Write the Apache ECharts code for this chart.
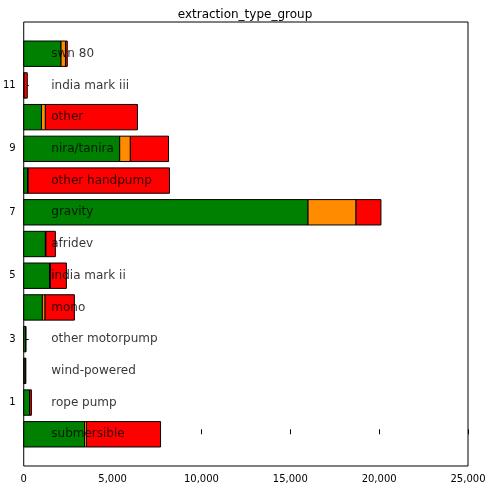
<!DOCTYPE html>
<html><head><meta charset="utf-8">
<script src="https://cdn.jsdelivr.net/npm/echarts@6/dist/echarts.min.js"></script>
<style>html,body{margin:0;background:#fff}#c{width:490px;height:489px}</style>
</head><body><div id="c"></div>
<script>
// extraction types, bottom to top
var types = ['submersible','rope pump','wind-powered','other motorpump','mono','india mark ii',
  'afridev','gravity','other handpump','nira/tanira','other','india mark iii','swn 80'];
var functional = [3420, 330, 80, 100, 1050, 1450, 1220, 16000, 220, 5400, 1000, 20, 2100];
var needsRepair = [110, 0, 0, 0, 150, 50, 30, 2700, 30, 600, 220, 0, 250];
var nonFunctional = [4170, 100, 40, 30, 1650, 900, 530, 1400, 7950, 2150, 5180, 180, 100];
var colors = ['green', 'darkorange', 'red'];

var rects = [];
for (var i = 0; i < types.length; i++) {
  var s = 0;
  [functional[i], needsRepair[i], nonFunctional[i]].forEach(function (v, k) {
    if (v > 0) rects.push([i, s, s + v, k]);
    s += v;
  });
}
var labels = types.map(function (t, i) { return [1550, i, t]; });

var chart = echarts.init(document.getElementById('c'));
chart.setOption({
  animation: false,
  title: {text: 'extraction_type_group', left: 'center', top: 4,
    textStyle: {fontSize: 12, fontWeight: 'normal', color: '#000', fontFamily: 'DejaVu Sans'}},
  grid: {left: 22, right: 22, top: 22, bottom: 23, show: true, borderColor: '#000', borderWidth: 1},
  xAxis: {type: 'value', min: 0, max: 25000, interval: 5000,
    axisLine: {show: false}, splitLine: {show: false},
    axisTick: {inside: true, lineStyle: {color: '#000'}},
    axisLabel: {color: '#000', fontSize: 10, fontFamily: 'DejaVu Sans'}},
  yAxis: {type: 'value', min: -1, max: 13, interval: 2,
    axisLine: {show: false}, splitLine: {show: false},
    axisTick: {inside: true, lineStyle: {color: '#000'}},
    axisLabel: {color: '#000', fontSize: 10, fontFamily: 'DejaVu Sans', showMinLabel: false, showMaxLabel: false}},
  series: [{
    type: 'custom',
    data: rects,
    encode: {x: [1, 2], y: 0},
    renderItem: function (params, api) {
      var y = api.value(0);
      var p0 = api.coord([api.value(1), y + 0.4]);
      var p1 = api.coord([api.value(2), y - 0.4]);
      return {type: 'rect', shape: {x: p0[0], y: p0[1], width: p1[0] - p0[0], height: p1[1] - p0[1]},
        style: {fill: colors[api.value(3)], stroke: '#000', lineWidth: 1}};
    }
  }, {
    type: 'scatter',
    data: labels,
    symbolSize: 0,
    label: {show: true, position: 'right', distance: 0, color: '#000', fontSize: 12,
      fontFamily: 'DejaVu Sans', formatter: function (p) { return p.data[2]; }}
  }]
});
</script></body></html>
